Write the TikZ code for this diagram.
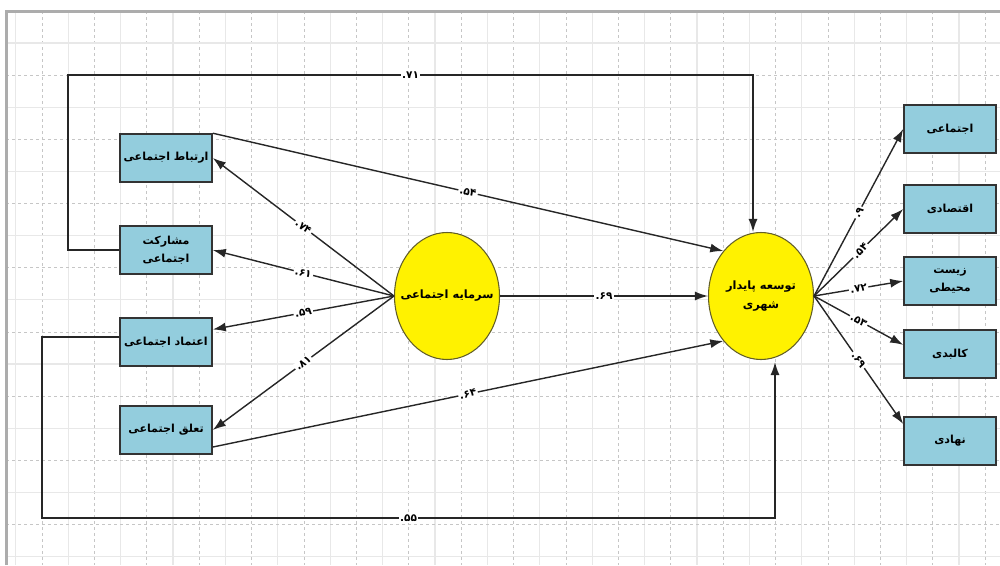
\documentclass[tikz,border=0pt]{standalone}
\usepackage{fontspec}
\newfontfamily\arabicfont[Script=Arabic]{DejaVu Sans}
\TeXXeTstate=1
\usetikzlibrary{arrows.meta,positioning,shapes.geometric}
\definecolor{boxblue}{RGB}{147,205,221}
\newcommand{\cv}[1]{\hbox{.}#1}
\tikzstyle{factor}=[rectangle,draw=black!80,line width=0.9pt,fill=boxblue,
minimum width=18.4mm,minimum height=9.6mm,align=center,inner sep=1pt,
font=\arabicfont\bfseries\fontsize{6.3}{10}\selectfont]
\tikzstyle{construct}=[ellipse,draw=olive!60!black,line width=0.6pt,fill=yellow,
minimum width=21mm,minimum height=25.4mm,align=center,inner xsep=-4mm,inner ysep=0pt,
font=\arabicfont\bfseries\fontsize{6.5}{11}\selectfont]
\tikzstyle{coef}=[fill=white,inner sep=0.8pt,sloped,
font=\arabicfont\bfseries\fontsize{6}{7}\selectfont]
\tikzstyle{link}=[draw=black!85,line width=0.8pt]
\tikzstyle{gridmajor}=[gray!45,dash pattern=on 0.6mm off 0.6mm,line width=0.4pt]
\tikzstyle{gridminor}=[gray!18,line width=0.6pt]

\begin{document}
\begin{tikzpicture}[x=0.2mm,y=-0.2mm,>={Latex[length=2.6mm,width=1.8mm]}]
            \useasboundingbox (0,0) rectangle (1000,565);

            % SHEET GRID

            \foreach \k in {0,2,...,36} \draw[gridminor] ({15.8+26.2*\k},11) -- ({15.8+26.2*\k},565);
            \foreach \k in {1,3,...,37} \draw[gridmajor] ({15.8+26.2*\k},11) -- ({15.8+26.2*\k},565);
            \foreach \k in {0,2,...,16} \draw[gridminor] (6,{43+32.1*\k}) -- (1000,{43+32.1*\k});
            \foreach \k in {1,3,...,15} \draw[gridmajor] (6,{43+32.1*\k}) -- (1000,{43+32.1*\k});
            \draw[gray!65,line width=0.6mm] (6,565) -- (6,11) -- (1000,11);

            % CONSTRUCTS

            \node[construct] (sc) at (447,296) {\beginR سرمایه اجتماعی\endR};
            \node[construct] (tos) at (761,296) {\beginR توسعه پایدار\endR\\\beginR شهری\endR};

            % SOCIAL CAPITAL PART

            \node[factor] (b1) at (166,158) {\beginR ارتباط اجتماعی\endR};
            \node[factor] (b2) at (166,250) {\beginR مشارکت\endR\\\beginR اجتماعی\endR};
            \node[factor] (b3) at (166,342) {\beginR اعتماد اجتماعی\endR};
            \node[factor] (b4) at (166,430) {\beginR تعلق اجتماعی\endR};

            \path[->] (sc.west) edge[link] node[coef] {\cv{۷۴}} (b1.east);
            \path[->] (sc.west) edge[link] node[coef] {\cv{۶۱}} (b2.east);
            \path[->] (sc.west) edge[link] node[coef] {\cv{۵۹}} (b3.15);
            \path[->] (sc.west) edge[link] node[coef] {\cv{۸۱}} (b4.east);

            % SUSTAINABLE DEVELOPMENT PART

            \node[factor] (r1) at (950,129) {\beginR اجتماعی\endR};
            \node[factor] (r2) at (950,209) {\beginR اقتصادی\endR};
            \node[factor] (r3) at (950,281) {\beginR زیست\endR\\\beginR محیطی\endR};
            \node[factor] (r4) at (950,354) {\beginR کالبدی\endR};
            \node[factor] (r5) at (950,441) {\beginR نهادی\endR};

            \path[->] (tos.east) edge[link] node[coef,pos=0.5] {\cv{۹}} (r1.west);
            \path[->] (tos.east) edge[link] node[coef,pos=0.52] {\cv{۵۴}} (r2.west);
            \path[->] (tos.east) edge[link] node[coef,pos=0.5] {\cv{۷۲}} (r3.west);
            \path[->] (tos.east) edge[link] node[coef,pos=0.5] {\cv{۵۳}} (r4.169);
            \path[->] (tos.east) edge[link] node[coef,pos=0.5] {\cv{۶۹}} (r5.160);

            % Direct effects

            \path[->] (sc.east) edge[link] node[coef] {\cv{۶۹}} (tos.west);
            \path[->] (b1.north east) edge[link] node[coef] {\cv{۵۴}} (tos.130);
            \path[->] (b4.-20) edge[link] node[coef] {\cv{۶۴}} (tos.230);

            \coordinate (tl) at (68,75);
            \coordinate (tr) at (753,75);
            \coordinate (bl) at (42,518);
            \coordinate (br) at (775,518);
            \draw[link,->] (b2.west) -| (tl) -- node[coef] {\cv{۷۱}} (tr) -- (tr |- tos.north);
            \draw[link,->] ([yshift=1mm]b3.west) -| (bl) -- node[coef] {\cv{۵۵}} (br) -- ([yshift=-0.4mm]br |- tos.south);

        \end{tikzpicture}
\end{document}
